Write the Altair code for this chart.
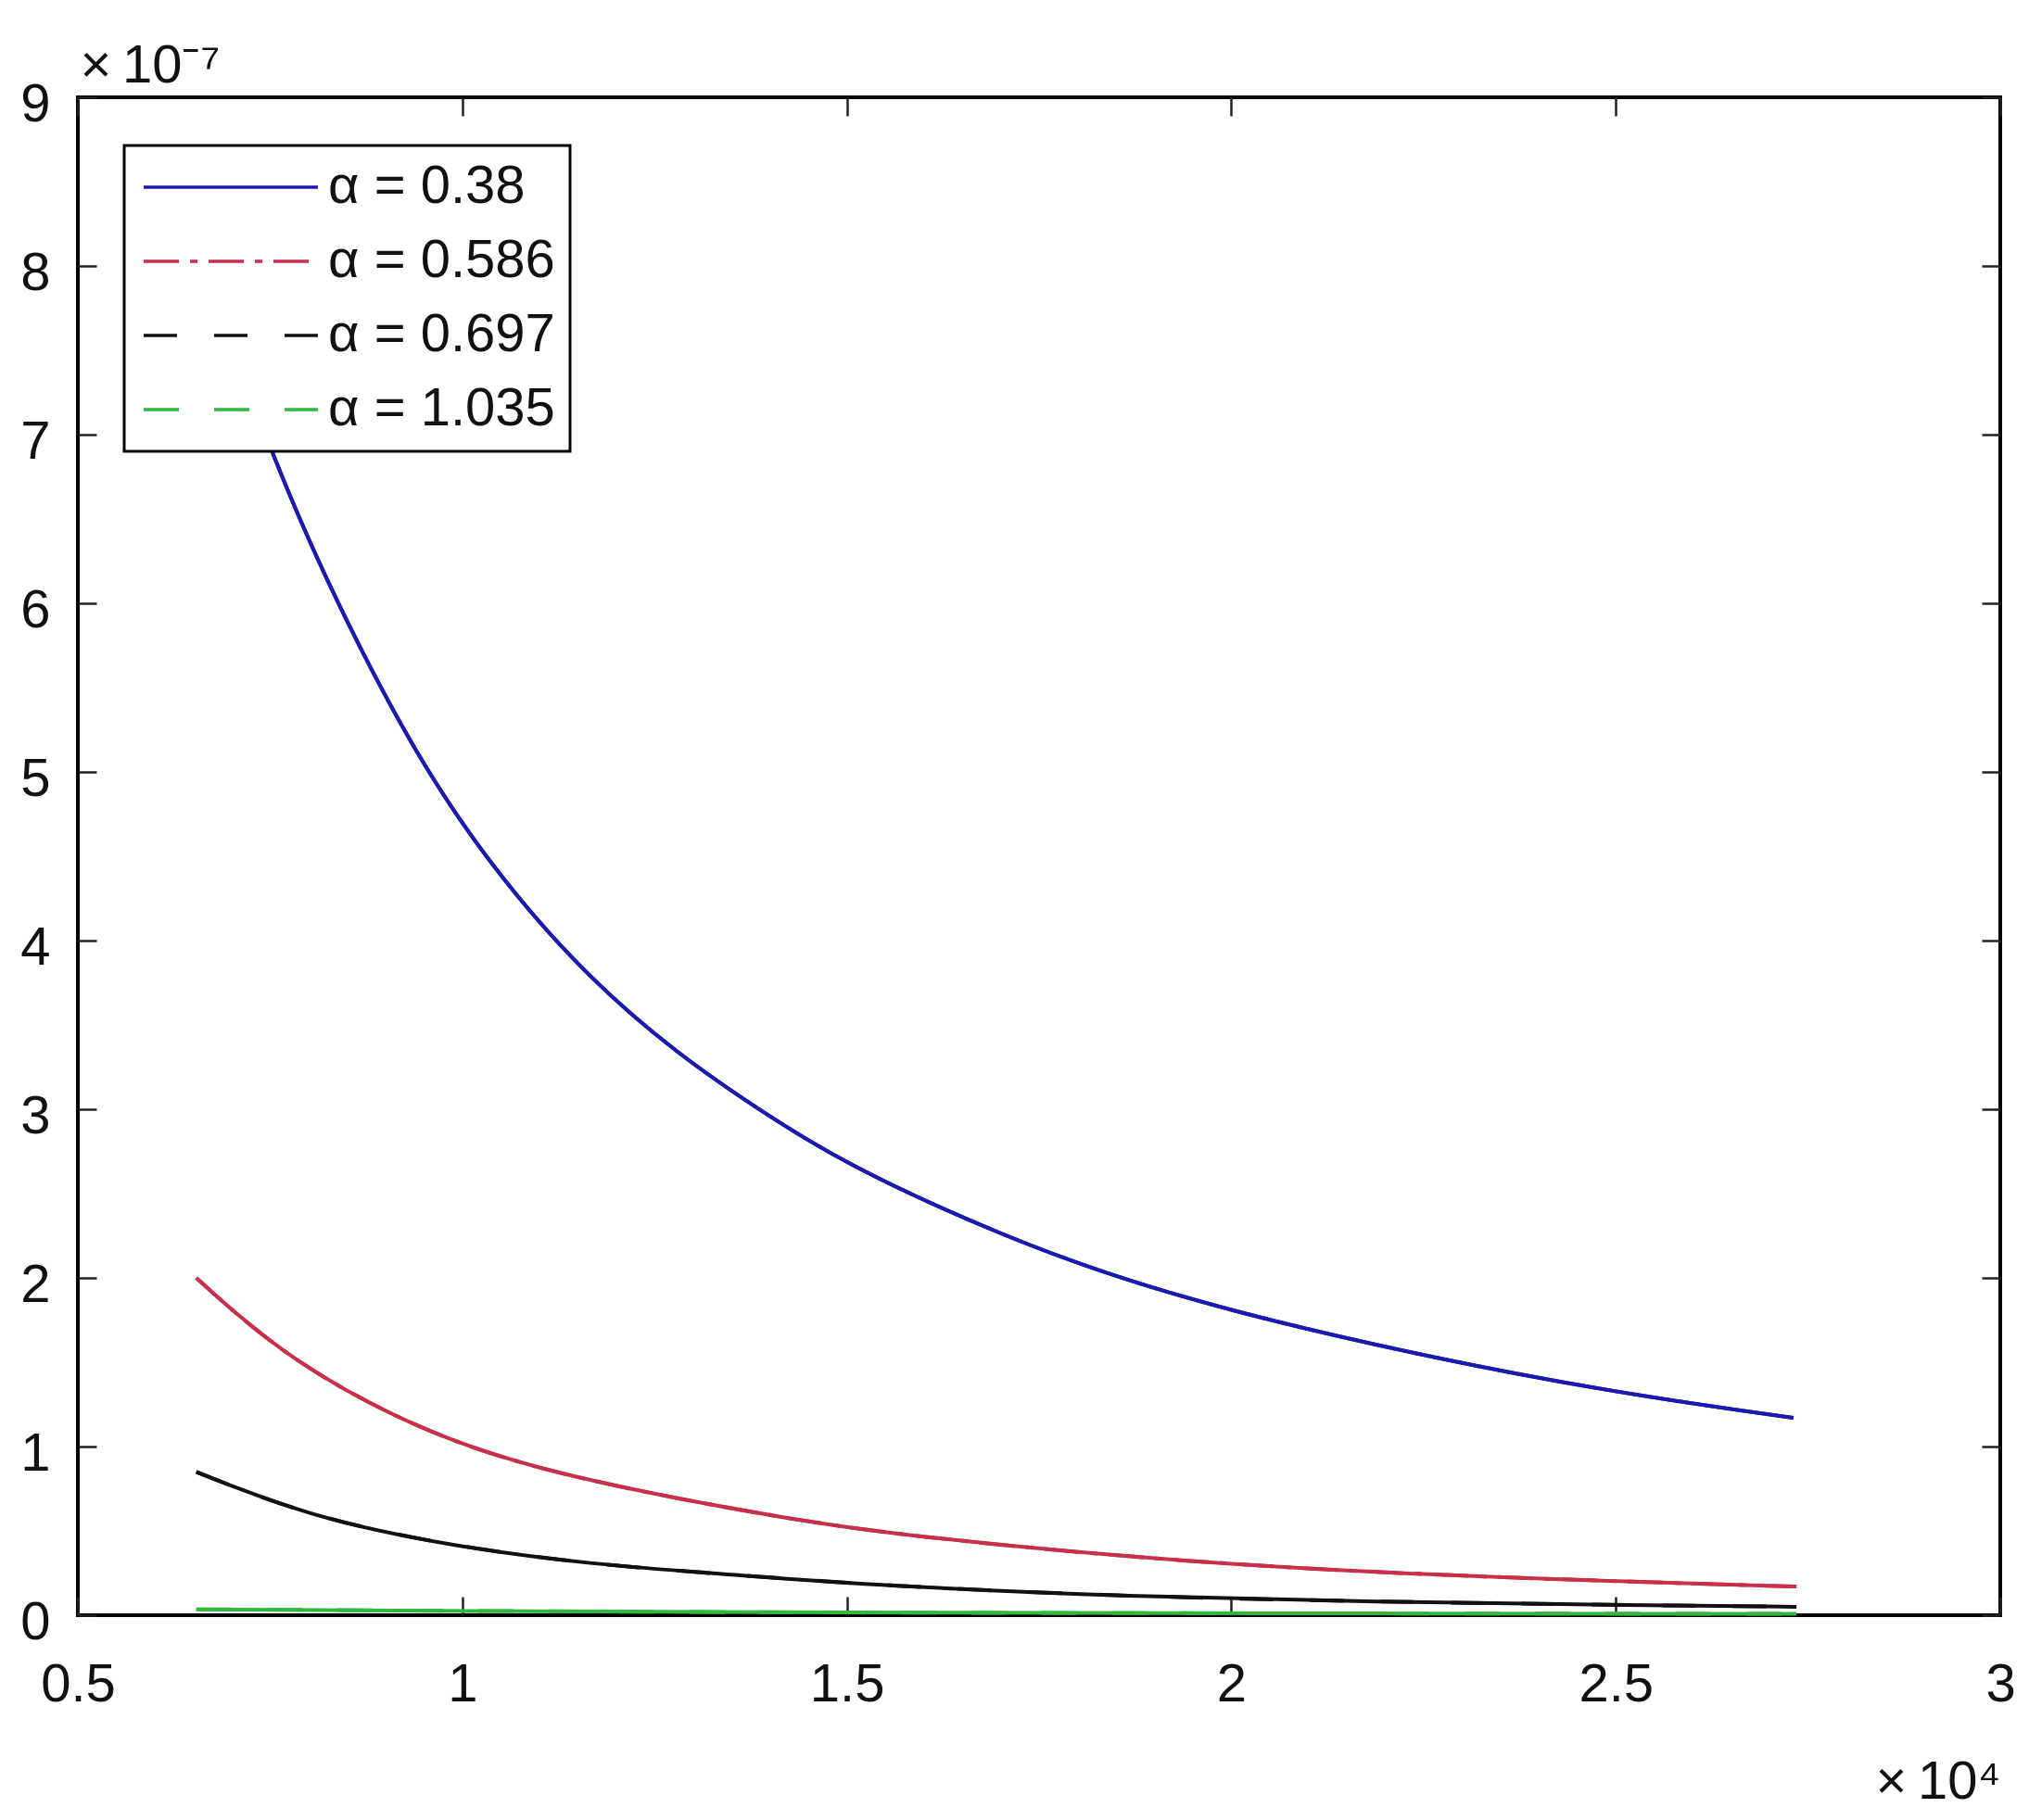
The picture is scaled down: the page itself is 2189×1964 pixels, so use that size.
import altair as alt
import pandas as pd

# x in units of 1e4, y in units of 1e-7
alphas = ['α = 0.38', 'α = 0.586', 'α = 0.697', 'α = 1.035']

x_038 = [0.654, 0.700, 0.750, 0.817, 0.941, 1.054, 1.166, 1.279, 1.391, 1.480, 1.580, 1.700,
         1.820, 1.991, 2.245, 2.498, 2.731]
y_038 = [8.30, 7.52, 6.92, 6.18, 5.07, 4.34, 3.77, 3.33, 2.98, 2.73, 2.50, 2.26,
         2.05, 1.81, 1.54, 1.32, 1.17]

x_0586 = [0.654, 0.776, 0.960, 1.120, 1.292, 1.428, 1.560, 1.867, 2.190, 2.506, 2.735]
y_0586 = [2.00, 1.50, 1.06, 0.84, 0.68, 0.57, 0.48, 0.34, 0.25, 0.20, 0.17]

x_0697 = [0.654, 0.800, 0.985, 1.169, 1.353, 1.544, 1.867, 2.190, 2.506, 2.735]
y_0697 = [0.85, 0.585, 0.41, 0.30, 0.24, 0.175, 0.11, 0.08, 0.06, 0.05]

x_1035 = [0.654, 1.000, 1.500, 2.000, 2.735]
y_1035 = [0.035, 0.025, 0.015, 0.011, 0.008]

xticks = [0.5, 1, 1.5, 2, 2.5, 3]
yticks = [0, 1, 2, 3, 4, 5, 6, 7, 8, 9]

colors = ['#1a1ab0', '#c8304a', '#111111', '#30b840']
dashes = [[1, 0], [38, 12, 8, 12], [36, 40], [38, 38]]

df = pd.concat([
    pd.DataFrame({'x': x_038, 'y': y_038, 'alpha': alphas[0]}),
    pd.DataFrame({'x': x_0586, 'y': y_0586, 'alpha': alphas[1]}),
    pd.DataFrame({'x': x_0697, 'y': y_0697, 'alpha': alphas[2]}),
    pd.DataFrame({'x': x_1035, 'y': y_1035, 'alpha': alphas[3]}),
], ignore_index=True)

W, H = 2074, 1638
font = 'Liberation Sans'
fs = 58
lw = 4

x_scale = alt.Scale(domain=[0.5, 3], nice=False, zero=False)
y_scale = alt.Scale(domain=[0, 9], nice=False)
color_scale = alt.Scale(domain=alphas, range=colors)
dash_scale = alt.Scale(domain=alphas, range=dashes)

legend = alt.Legend(
    title=None, orient='none', legendX=50, legendY=52,
    symbolType='M-2.4,0H16.4', symbolSize=400, symbolStrokeWidth=3.5,
    labelFontSize=fs, labelFont=font, labelColor='#111', labelLimit=0,
    labelOffset=146, fillColor='white', strokeColor='black',
)


def tick_axis(orient, offset, values):
    # inward ticks: axis pushed across the plot so its ticks point inside
    return alt.Axis(orient=orient, offset=offset, values=values, labels=False,
                    domain=False, grid=False, ticks=True, tickSize=20,
                    tickWidth=2.5, tickColor='#222')


solid = alt.Chart(df).mark_line(strokeWidth=lw, interpolate='basis').encode(
    x=alt.X('x:Q', scale=x_scale, title='×\u200910⁴',
            axis=alt.Axis(orient='bottom', values=xticks, ticks=False, domain=False,
                          grid=False, format='~g', labelFlush=False,
                          labelFontSize=fs, labelPadding=46,
                          titleX=W, titleY=197, titleAlign='right',
                          titleBaseline='alphabetic', titleFontSize=fs,
                          titleFontWeight='normal')),
    y=alt.Y('y:Q', scale=y_scale, title='×\u200910⁻⁷',
            axis=alt.Axis(orient='left', values=yticks, ticks=False, domain=False,
                          grid=False, format='d', labelFontSize=fs,
                          labelPadding=30, labelOffset=8,
                          titleAngle=0, titleX=2, titleY=-17, titleAlign='left',
                          titleBaseline='alphabetic', titleFontSize=fs,
                          titleFontWeight='normal')),
    color=alt.Color('alpha:N', scale=color_scale, legend=legend),
)

dashed = alt.Chart(df).mark_line(strokeWidth=lw, interpolate='basis').encode(
    x=alt.X('x:Q', scale=x_scale, title=None, axis=tick_axis('top', -H, xticks)),
    y=alt.Y('y:Q', scale=y_scale, title=None, axis=tick_axis('left', -W, yticks)),
    color=alt.Color('alpha:N', scale=color_scale, legend=legend),
    strokeDash=alt.StrokeDash('alpha:N', scale=dash_scale, legend=legend),
)

frame = alt.Chart(df).mark_line(opacity=0).encode(
    x=alt.X('x:Q', scale=x_scale, title=None, axis=tick_axis('bottom', -H, xticks)),
    y=alt.Y('y:Q', scale=y_scale, title=None, axis=tick_axis('right', -W, yticks)),
    detail='alpha:N',
)

chart = alt.layer(solid, dashed, frame).resolve_axis(
    x='independent', y='independent'
).properties(
    width=W, height=H,
    autosize=alt.AutoSizeParams(type='none'),
    padding={'left': 76, 'top': 97, 'right': 23, 'bottom': 213},
).configure(
    font=font, background='white'
).configure_view(
    stroke='black', strokeWidth=4
).configure_axis(
    labelFont=font, titleFont=font, labelColor='#111', titleColor='#111'
).configure_legend(
    padding=16, rowPadding=22, strokeWidth=3
)

chart.save('out.html', embed_options={'renderer': 'svg', 'actions': False})
